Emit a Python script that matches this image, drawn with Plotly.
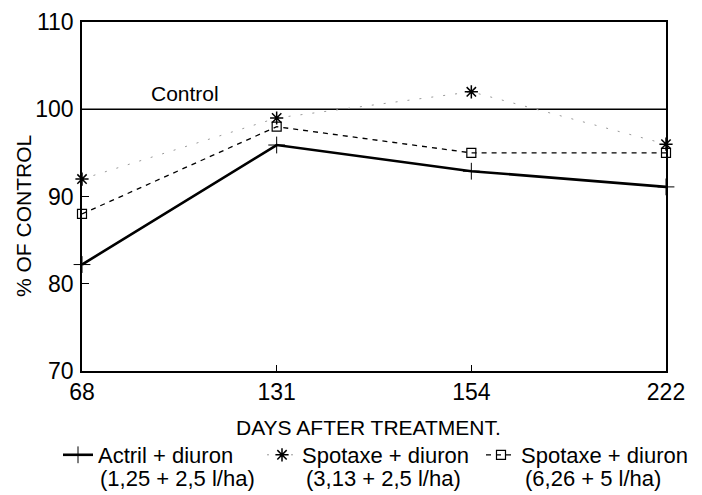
import plotly.graph_objects as go

days = ["68", "131", "154", "222"]
xpos = [0, 1, 2, 3]
control = [100, 100, 100, 100]
actril = [82.2, 95.9, 92.9, 91.1]
spot313 = [92, 99, 102, 96]
spot626 = [88, 98, 95, 95]

FONT = "Liberation Sans, Arial, Helvetica, sans-serif"

fig = go.Figure()

fig.add_trace(go.Scatter(x=xpos, y=control, mode="lines", showlegend=False,
                         line=dict(color="black", width=1.5), cliponaxis=False))
fig.add_trace(go.Scatter(x=xpos, y=actril, mode="lines+markers", name="Actril + diuron",
                         line=dict(color="black", width=2.6),
                         marker=dict(symbol="cross-thin", size=12, line=dict(color="black", width=1)),
                         cliponaxis=False, legend="legend"))
fig.add_trace(go.Scatter(x=xpos, y=spot313, mode="lines+markers", name="Spotaxe + diuron",
                         line=dict(color="#999999", width=1, dash="2px,10px"),
                         marker=dict(symbol="asterisk", size=11, color="black", line=dict(color="black", width=1.5)),
                         cliponaxis=False, legend="legend2"))
fig.add_trace(go.Scatter(x=xpos, y=spot626, mode="lines+markers", name="Spotaxe + diuron",
                         line=dict(color="black", width=1.3, dash="5px,5px"),
                         marker=dict(symbol="square-open", size=9, color="black", line=dict(color="black", width=1.2)),
                         cliponaxis=False, legend="legend3"))

W, L, R, T, B = 702, 82, 36, 22, 124
pw = W - L - R
ph = 495 - T - B

def px2x(px):
    return (px - L) / pw

def py2y(py):
    return (T + ph - py) / ph

leg_common = dict(orientation="h", xanchor="left", yanchor="middle",
                  font=dict(family=FONT, size=22, color="black"),
                  bgcolor="rgba(0,0,0,0)", itemwidth=30)

fig.update_layout(
    width=W, height=495,
    margin=dict(l=L, r=R, t=T, b=B, autoexpand=False),
    plot_bgcolor="white", paper_bgcolor="white",
    font=dict(family=FONT, color="black"),
    xaxis=dict(range=[0, 3], tickvals=xpos, ticktext=days, showgrid=False, zeroline=False,
               showline=True, linecolor="black", linewidth=1.5, mirror=True,
               ticks="inside", ticklen=6, tickcolor="black",
               tickfont=dict(family=FONT, size=23, color="black"), ticklabelstandoff=0),
    yaxis=dict(range=[70, 110], tickvals=[70, 80, 90, 100, 110], showgrid=False, zeroline=False,
               showline=True, linecolor="black", linewidth=1.5, mirror=True,
               ticks="inside", ticklen=7, tickcolor="black",
               tickfont=dict(family=FONT, size=23, color="black"), ticklabelstandoff=2),
    legend=dict(x=px2x(98 - 40), y=py2y(455), **leg_common),
    legend2=dict(x=px2x(302 - 40), y=py2y(455), **leg_common),
    legend3=dict(x=px2x(521 - 40), y=py2y(455), **leg_common),
)

def ann(text, px, py, xanchor="center", size=21, angle=0):
    return dict(text=text, x=px2x(px), y=py2y(py), xref="paper", yref="paper",
                xanchor=xanchor, yanchor="middle", showarrow=False, textangle=angle,
                font=dict(family=FONT, size=size, color="black"))

annotations = [
    ann("Control", 185, 93),
    ann("% OF CONTROL", 23, 216, angle=-90),
    ann("DAYS AFTER TREATMENT.", 368, 428),
    ann("(1,25 + 2,5 l/ha)", 98, 478, xanchor="left", size=22),
    ann("(3,13 + 2,5 l/ha)", 304, 478, xanchor="left", size=22),
    ann("(6,26 + 5 l/ha)", 523, 478, xanchor="left", size=22),
]
fig.update_layout(annotations=annotations)

fig.write_html("out.html", config={"displayModeBar": False},
               post_script="document.body.style.margin='0px';")
